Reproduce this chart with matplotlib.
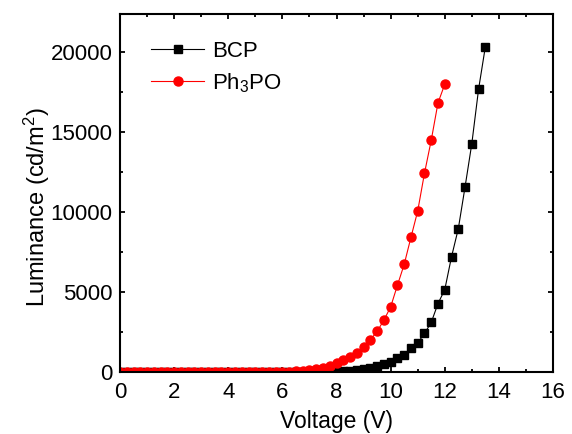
import matplotlib
matplotlib.use("Agg")
import matplotlib.pyplot as plt
from matplotlib.ticker import MultipleLocator

plt.rcParams['font.family'] = ['Liberation Sans', 'DejaVu Sans']
plt.rcParams['mathtext.default'] = 'regular'

# voltage sweep (V), 0.25 V steps
volt_bcp = [0.0, 0.25, 0.5, 0.75, 1.0, 1.25, 1.5, 1.75, 2.0, 2.25, 2.5, 2.75,
            3.0, 3.25, 3.5, 3.75, 4.0, 4.25, 4.5, 4.75, 5.0, 5.25, 5.5, 5.75,
            6.0, 6.25, 6.5, 6.75, 7.0, 7.25, 7.5, 7.75, 8.0, 8.25, 8.5, 8.75,
            9.0, 9.25, 9.5, 9.75, 10.0, 10.25, 10.5, 10.75, 11.0, 11.25, 11.5,
            11.75, 12.0, 12.25, 12.5, 12.75, 13.0, 13.25, 13.5]
lum_bcp = [0] * 28 + [5, 10, 15, 20,
           30, 45, 70, 110, 170, 250, 350, 480, 620, 860, 1070, 1470, 1820,
           2410, 3100, 4280, 5150, 7210, 8960, 11580, 14290, 17700, 20350]

volt_ph3po = volt_bcp[:49]
lum_ph3po = [0] * 24 + [10, 20, 40, 70, 120, 190, 280, 400, 540, 730, 950,
             1200, 1580, 2010, 2540, 3240, 4070, 5420, 6730, 8420, 10070,
             12430, 14500, 16840, 18000]

fig = plt.figure(figsize=(5.72, 4.34), dpi=100)
ax = fig.add_axes([0.2098, 0.1429, 0.757, 0.8248])

ax.plot(volt_bcp, lum_bcp, color='black', lw=0.8, marker='s', ms=5.8,
        label='BCP')
ax.plot(volt_ph3po, lum_ph3po, color='red', lw=0.8, marker='o', ms=6.5,
        label='Ph$_3$PO')

ax.set_xlim(0, 16)
ax.set_ylim(0, 22400)
ax.xaxis.set_major_locator(MultipleLocator(2))
ax.xaxis.set_minor_locator(MultipleLocator(1))
ax.yaxis.set_major_locator(MultipleLocator(5000))
ax.yaxis.set_minor_locator(MultipleLocator(2500))
ax.tick_params(which='both', direction='in', top=True, right=True,
               labelsize=16, width=1.3)
ax.tick_params(which='major', length=3.8)
ax.tick_params(which='minor', length=2.3)
ax.tick_params(axis='x', pad=7)
ax.tick_params(axis='y', pad=5.5)
for s in ax.spines.values():
    s.set_linewidth(1.5)

ax.set_xlabel('Voltage (V)', fontsize=16.5, labelpad=5)
ax.set_ylabel('Luminance (cd/m$^2$)', fontsize=17, labelpad=-1, y=0.46)

ax.legend(loc='upper left', bbox_to_anchor=(0.047, 0.955), frameon=False,
          fontsize=16, handlelength=2.35, handletextpad=0.36, borderpad=0,
          labelspacing=0.4)

fig.savefig('out.png', dpi=100)
